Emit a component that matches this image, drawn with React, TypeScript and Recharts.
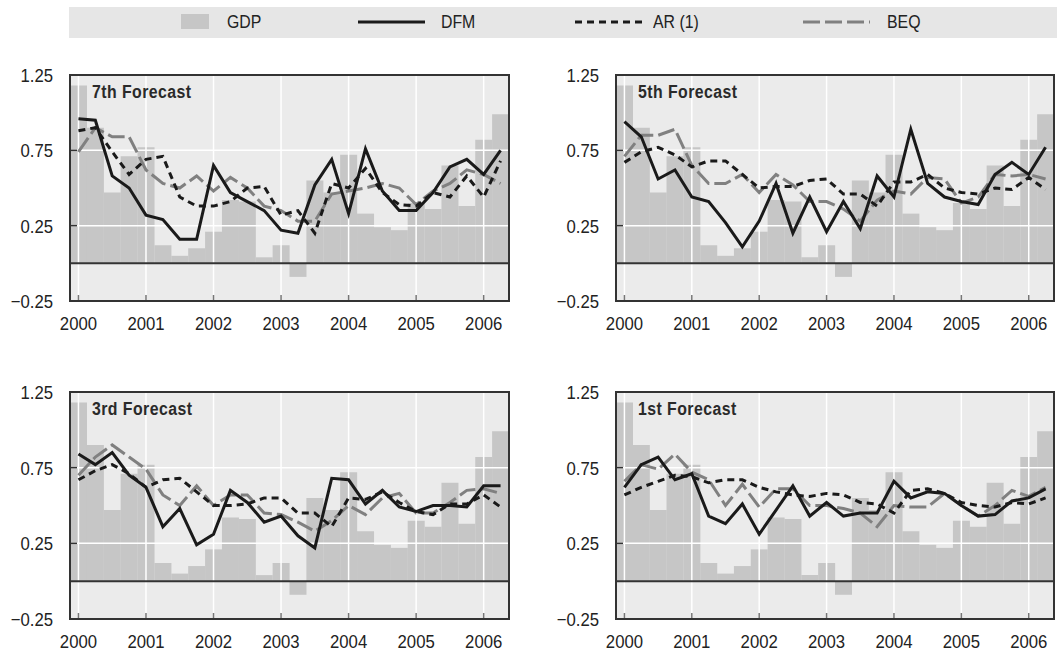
import React from 'react';
import { ComposedChart, Bar, Line, XAxis, YAxis, CartesianGrid, ReferenceLine } from 'recharts';

// no narrow font installed, so Liberation Sans is squeezed horizontally
const FONT = "'Liberation Sans', Arial, sans-serif";
const SQUEEZE = 0.88;

const quarters = [
  '2000Q1', '2000Q2', '2000Q3', '2000Q4',
  '2001Q1', '2001Q2', '2001Q3', '2001Q4',
  '2002Q1', '2002Q2', '2002Q3', '2002Q4',
  '2003Q1', '2003Q2', '2003Q3', '2003Q4',
  '2004Q1', '2004Q2', '2004Q3', '2004Q4',
  '2005Q1', '2005Q2', '2005Q3', '2005Q4',
  '2006Q1', '2006Q2',
];
const yearTicks = ['2000Q1', '2001Q1', '2002Q1', '2003Q1', '2004Q1', '2005Q1', '2006Q1'];
const yearLabels = ['2000', '2001', '2002', '2003', '2004', '2005', '2006'];
const yTicks = [-0.25, 0.25, 0.75, 1.25];
const yTickLabels = ['\u22120.25', '0.25', '0.75', '1.25'];

// GDP growth, same in every panel
const gdp = [1.18, 0.90, 0.47, 0.71, 0.77, 0.12, 0.05, 0.10, 0.21, 0.42, 0.41, 0.04, 0.12, -0.09, 0.55, 0.47, 0.72, 0.33, 0.24, 0.22, 0.40, 0.36, 0.65, 0.38, 0.82, 0.99];

const dfm7 = [0.96, 0.95, 0.58, 0.50, 0.32, 0.29, 0.16, 0.16, 0.65, 0.47, 0.41, 0.35, 0.22, 0.20, 0.52, 0.69, 0.33, 0.76, 0.48, 0.35, 0.35, 0.47, 0.64, 0.69, 0.59, 0.75];
const ar7 = [0.88, 0.90, 0.74, 0.59, 0.69, 0.71, 0.44, 0.38, 0.38, 0.41, 0.50, 0.51, 0.32, 0.35, 0.20, 0.53, 0.50, 0.63, 0.47, 0.39, 0.38, 0.47, 0.44, 0.58, 0.44, 0.68];
const beq7 = [0.74, 0.90, 0.84, 0.84, 0.62, 0.53, 0.50, 0.58, 0.48, 0.57, 0.50, 0.38, 0.35, 0.28, 0.28, 0.46, 0.48, 0.50, 0.53, 0.50, 0.39, 0.48, 0.53, 0.62, 0.59, 0.53];

const dfm5 = [0.94, 0.84, 0.56, 0.62, 0.44, 0.41, 0.27, 0.11, 0.28, 0.53, 0.20, 0.44, 0.21, 0.41, 0.23, 0.58, 0.44, 0.89, 0.53, 0.44, 0.41, 0.39, 0.59, 0.67, 0.59, 0.77];
const ar5 = [0.67, 0.74, 0.77, 0.72, 0.64, 0.68, 0.68, 0.59, 0.50, 0.51, 0.51, 0.55, 0.56, 0.46, 0.46, 0.38, 0.54, 0.54, 0.59, 0.50, 0.47, 0.46, 0.50, 0.49, 0.57, 0.49];
const beq5 = [0.71, 0.85, 0.85, 0.89, 0.65, 0.53, 0.53, 0.59, 0.47, 0.59, 0.52, 0.41, 0.41, 0.36, 0.28, 0.42, 0.48, 0.46, 0.57, 0.56, 0.40, 0.44, 0.59, 0.58, 0.59, 0.56];

const dfm3 = [0.84, 0.77, 0.85, 0.70, 0.62, 0.36, 0.48, 0.24, 0.31, 0.60, 0.52, 0.39, 0.43, 0.30, 0.22, 0.68, 0.67, 0.51, 0.60, 0.49, 0.46, 0.50, 0.50, 0.49, 0.63, 0.63];
const ar3 = [0.67, 0.73, 0.77, 0.71, 0.62, 0.67, 0.68, 0.59, 0.50, 0.50, 0.51, 0.55, 0.55, 0.45, 0.45, 0.36, 0.55, 0.54, 0.59, 0.52, 0.46, 0.44, 0.51, 0.51, 0.57, 0.49];
const beq3 = [0.70, 0.82, 0.90, 0.82, 0.74, 0.57, 0.50, 0.63, 0.50, 0.57, 0.57, 0.45, 0.44, 0.39, 0.33, 0.40, 0.50, 0.44, 0.55, 0.58, 0.45, 0.45, 0.52, 0.60, 0.61, 0.58];

const dfm1 = [0.62, 0.77, 0.82, 0.67, 0.71, 0.43, 0.38, 0.51, 0.31, 0.47, 0.63, 0.43, 0.52, 0.43, 0.45, 0.45, 0.66, 0.55, 0.59, 0.58, 0.50, 0.43, 0.44, 0.53, 0.55, 0.61];
const ar1 = [0.57, 0.62, 0.66, 0.70, 0.69, 0.65, 0.67, 0.67, 0.62, 0.59, 0.57, 0.56, 0.58, 0.57, 0.52, 0.51, 0.45, 0.60, 0.61, 0.58, 0.52, 0.50, 0.49, 0.52, 0.51, 0.55];
const beq1 = [0.66, 0.77, 0.74, 0.84, 0.72, 0.67, 0.50, 0.64, 0.49, 0.61, 0.61, 0.50, 0.50, 0.48, 0.45, 0.36, 0.50, 0.49, 0.49, 0.58, 0.50, 0.43, 0.50, 0.60, 0.56, 0.62];

const BAR = '#c6c6c6';
const BG = '#ebebeb';
const INK = '#222';

function XTick(props: any) {
  const { x, y, payload } = props;
  const i = yearTicks.indexOf(payload.value);
  if (i < 0) return <g />;
  return (
    <g>
      <line x1={x} x2={x} y1={y} y2={y - 6} stroke="#777" strokeWidth={1.5} />
      <text
        transform={`translate(${x},${y + 29}) scale(${SQUEEZE},1)`}
        textAnchor="middle"
        fontSize={19}
        fill={INK}
        fontFamily={FONT}
      >
        {yearLabels[i]}
      </text>
    </g>
  );
}

function YTick(props: any) {
  const { x, y, payload } = props;
  const i = yTicks.indexOf(payload.value);
  return (
    <g>
      {i === 1 || i === 2 ? <line x1={x} x2={x + 7} y1={y} y2={y} stroke="#333" strokeWidth={1.5} /> : null}
      <text
        transform={`translate(${x - 17},${y + 7}) scale(${SQUEEZE},1)`}
        textAnchor="end"
        fontSize={19}
        fill={INK}
        fontFamily={FONT}
      >
        {yTickLabels[i]}
      </text>
    </g>
  );
}

interface PanelProps {
  title: string;
  dfm: number[];
  ar: number[];
  beq: number[];
  plotLeft: number;
  plotTop: number;
  plotW: number;
  plotH: number;
}

function Panel({ title, dfm, ar, beq, plotLeft, plotTop, plotW, plotH }: PanelProps) {
  const data = quarters.map((q, i) => ({ q, gdp: gdp[i], dfm: dfm[i], ar: ar[i], beq: beq[i] }));
  const axisW = 70;
  const top = 10;
  const right = 3;
  const axisH = 34;
  return (
    <>
      <div style={{ position: 'absolute', left: plotLeft - axisW, top: plotTop - top }}>
        <ComposedChart
          width={axisW + plotW + right}
          height={top + plotH + axisH}
          data={data}
          margin={{ top, right, bottom: 0, left: 0 }}
          barCategoryGap={0}
          barGap={0}
        >
          <CartesianGrid fill={BG} horizontal={false} vertical={false} />
          <Bar dataKey="gdp" fill={BAR} isAnimationActive={false} />
          {[0.25, 0.75].map((v) => (
            <ReferenceLine key={v} y={v} stroke="#fff" strokeWidth={1.5} />
          ))}
          {yearTicks.map((q) => (
            <ReferenceLine key={q} x={q} stroke="#fff" strokeWidth={1.5} />
          ))}
          <ReferenceLine y={0} stroke="#333" strokeWidth={2} />
          <Line dataKey="beq" stroke="#808080" strokeWidth={3} strokeDasharray="17 5" dot={false} isAnimationActive={false} />
          <Line dataKey="ar" stroke="#1a1a1a" strokeWidth={3} strokeDasharray="7 5" dot={false} isAnimationActive={false} />
          <Line dataKey="dfm" stroke="#1a1a1a" strokeWidth={3} dot={false} isAnimationActive={false} />
          <XAxis
            dataKey="q"
            height={axisH}
            interval={0}
            tickSize={0}
            tickMargin={0}
            axisLine={false}
            tickLine={false}
            tick={<XTick />}
          />
          <YAxis
            type="number"
            domain={[-0.25, 1.25]}
            ticks={yTicks}
            width={axisW}
            tickSize={0}
            tickMargin={0}
            axisLine={false}
            tickLine={false}
            tick={<YTick />}
          />
        </ComposedChart>
      </div>
      <div
        style={{
          position: 'absolute',
          left: plotLeft - 1,
          top: plotTop - 1,
          width: plotW + 2,
          height: plotH + 2,
          border: '2px solid #333',
          boxSizing: 'border-box',
          pointerEvents: 'none',
        }}
      />
      <div
        style={{
          position: 'absolute',
          left: plotLeft + 22,
          top: plotTop + 6,
          fontFamily: FONT,
          fontWeight: 'bold',
          fontSize: 18,
          letterSpacing: 0.5,
          color: '#2a2a2a',
          lineHeight: '22px',
          whiteSpace: 'nowrap',
          transform: `scaleX(${SQUEEZE})`,
          transformOrigin: 'left center',
        }}
      >
        {title}
      </div>
    </>
  );
}

function LegendBar() {
  const text = {
    position: 'absolute' as const,
    top: 4,
    fontFamily: FONT,
    fontSize: 18,
    color: INK,
    lineHeight: '22px',
    whiteSpace: 'nowrap' as const,
    transform: `scaleX(${SQUEEZE})`,
    transformOrigin: 'left center',
  };
  return (
    <div style={{ position: 'absolute', left: 69, top: 7, width: 988, height: 31, background: '#e6e6e6' }}>
      <svg width={988} height={31} style={{ position: 'absolute', left: 0, top: 0 }}>
        <rect x={181 - 69} y={7} width={28} height={15} fill={BAR} />
        <line x1={358 - 69} x2={425 - 69} y1={15} y2={15} stroke="#1a1a1a" strokeWidth={3} />
        <line x1={575 - 69} x2={645 - 69} y1={15} y2={15} stroke="#1a1a1a" strokeWidth={3} strokeDasharray="7 5" />
        <line x1={803 - 69} x2={870 - 69} y1={15} y2={15} stroke="#808080" strokeWidth={3} strokeDasharray="17 5" />
      </svg>
      <div style={{ ...text, left: 227 - 69 }}>GDP</div>
      <div style={{ ...text, left: 441 - 69 }}>DFM</div>
      <div style={{ ...text, left: 653 - 69 }}>AR (1)</div>
      <div style={{ ...text, left: 887 - 69 }}>BEQ</div>
    </div>
  );
}

export default function App() {
  return (
    <div
      style={{
        position: 'absolute',
        left: 0,
        top: 0,
        width: 1057,
        height: 653,
        overflow: 'hidden',
        background: '#fff',
      }}
    >
      <LegendBar />
      <Panel title="7th Forecast" dfm={dfm7} ar={ar7} beq={beq7} plotLeft={70} plotTop={75} plotW={439} plotH={226} />
      <Panel title="5th Forecast" dfm={dfm5} ar={ar5} beq={beq5} plotLeft={615.5} plotTop={75} plotW={438} plotH={226} />
      <Panel title="3rd Forecast" dfm={dfm3} ar={ar3} beq={beq3} plotLeft={70} plotTop={392} plotW={439} plotH={227} />
      <Panel title="1st Forecast" dfm={dfm1} ar={ar1} beq={beq1} plotLeft={615.5} plotTop={392} plotW={438} plotH={227} />
    </div>
  );
}
